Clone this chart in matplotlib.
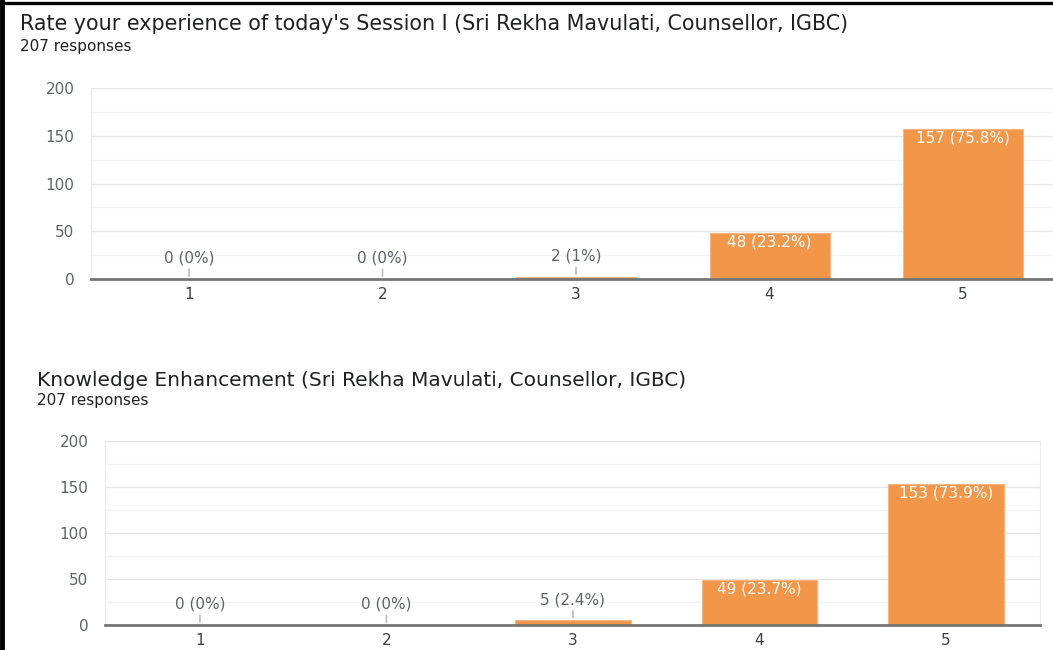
import matplotlib.pyplot as plt
import numpy as np
from matplotlib.lines import Line2D

plt.rcParams['font.family'] = ['DejaVu Sans']

# data
categories = ['1', '2', '3', '4', '5']
session_counts = [0, 0, 2, 48, 157]
session_pct = ['0%', '0%', '1%', '23.2%', '75.8%']
knowledge_counts = [0, 0, 5, 49, 153]
knowledge_pct = ['0%', '0%', '2.4%', '23.7%', '73.9%']

title_top = "Rate your experience of today's Session I (Sri Rekha Mavulati, Counsellor, IGBC)"
title_bottom = "Knowledge Enhancement (Sri Rekha Mavulati, Counsellor, IGBC)"
responses = "207 responses"

W, H = 1053, 650
ORANGE = '#f2964a'
DARK = '#202124'
GREY = '#5f6368'

fig = plt.figure(figsize=(W / 100, H / 100), dpi=100)


def px_axes(left, right, top, bottom):
    return fig.add_axes([left / W, 1 - bottom / H, (right - left) / W, (bottom - top) / H])


def draw_panel(ax, counts, pcts, xlim):
    x = np.arange(1, len(categories) + 1)
    ax.bar(x, counts, width=0.62, color=ORANGE, edgecolor='#f6b582', linewidth=0.8, zorder=3)
    ax.set_xlim(*xlim)
    ax.set_ylim(0, 200)
    ax.set_yticks([0, 50, 100, 150, 200])
    ax.set_yticks([25, 75, 125, 175], minor=True)
    ax.set_xticks(x)
    ax.set_xticklabels(categories)
    ax.grid(axis='y', which='major', color='#e6e6e6', linewidth=1, zorder=0)
    ax.grid(axis='y', which='minor', color='#f3f3f3', linewidth=1, zorder=0)
    ax.tick_params(axis='both', which='both', length=0)
    ax.tick_params(axis='y', pad=12, labelsize=11, labelcolor=GREY)
    ax.tick_params(axis='x', pad=6, labelsize=11, labelcolor='#3c4043')
    ax.spines['top'].set_visible(False)
    ax.spines['left'].set_color('#ececec')
    ax.spines['right'].set_color('#ececec')
    ax.spines['bottom'].set_color('#757575')
    ax.spines['bottom'].set_linewidth(2)
    ax.spines['bottom'].set_zorder(4)

    for xi, c, p in zip(x, counts, pcts):
        label = f"{c} ({p})"
        if c < 20:
            # small bars: grey label above with a short leader line
            ax.annotate('', xy=(xi, c), xytext=(0, 9), textcoords='offset points',
                        arrowprops=dict(arrowstyle='-', color='#bdbdbd', lw=1.2), zorder=5)
            ax.annotate(label, xy=(xi, c), xytext=(0, 15), textcoords='offset points',
                        ha='center', va='center', fontsize=11, color=GREY, zorder=5)
        else:
            ax.annotate(label, xy=(xi, c), xytext=(0, -6.5), textcoords='offset points',
                        ha='center', va='center', fontsize=11, color='white', zorder=5)


# ======================================
# top chart
# ======================================
ax1 = px_axes(91, 1053, 88, 279)
draw_panel(ax1, session_counts, session_pct, (0.4935, 5.465))
fig.text(20 / W, 1 - 24 / H, title_top, fontsize=14.9, color=DARK, va='center', ha='left')
fig.text(20 / W, 1 - 46 / H, responses, fontsize=11, color=DARK, va='center', ha='left')

# ======================================
# bottom chart
# ======================================
ax2 = px_axes(105, 1040, 441, 625)
draw_panel(ax2, knowledge_counts, knowledge_pct, (0.491, 5.504))
fig.text(37 / W, 1 - 380 / H, title_bottom, fontsize=14.5, color=DARK, va='center', ha='left')
fig.text(37 / W, 1 - 401 / H, responses, fontsize=11, color=DARK, va='center', ha='left')

# black screenshot frame (top and left edges)
fig.add_artist(Line2D([0, 1], [1 - 2.5 / H, 1 - 2.5 / H], color='black', linewidth=2.4))
fig.add_artist(Line2D([2 / W, 2 / W], [0, 1], color='black', linewidth=3.5))

fig.savefig('out.png', dpi=100)
